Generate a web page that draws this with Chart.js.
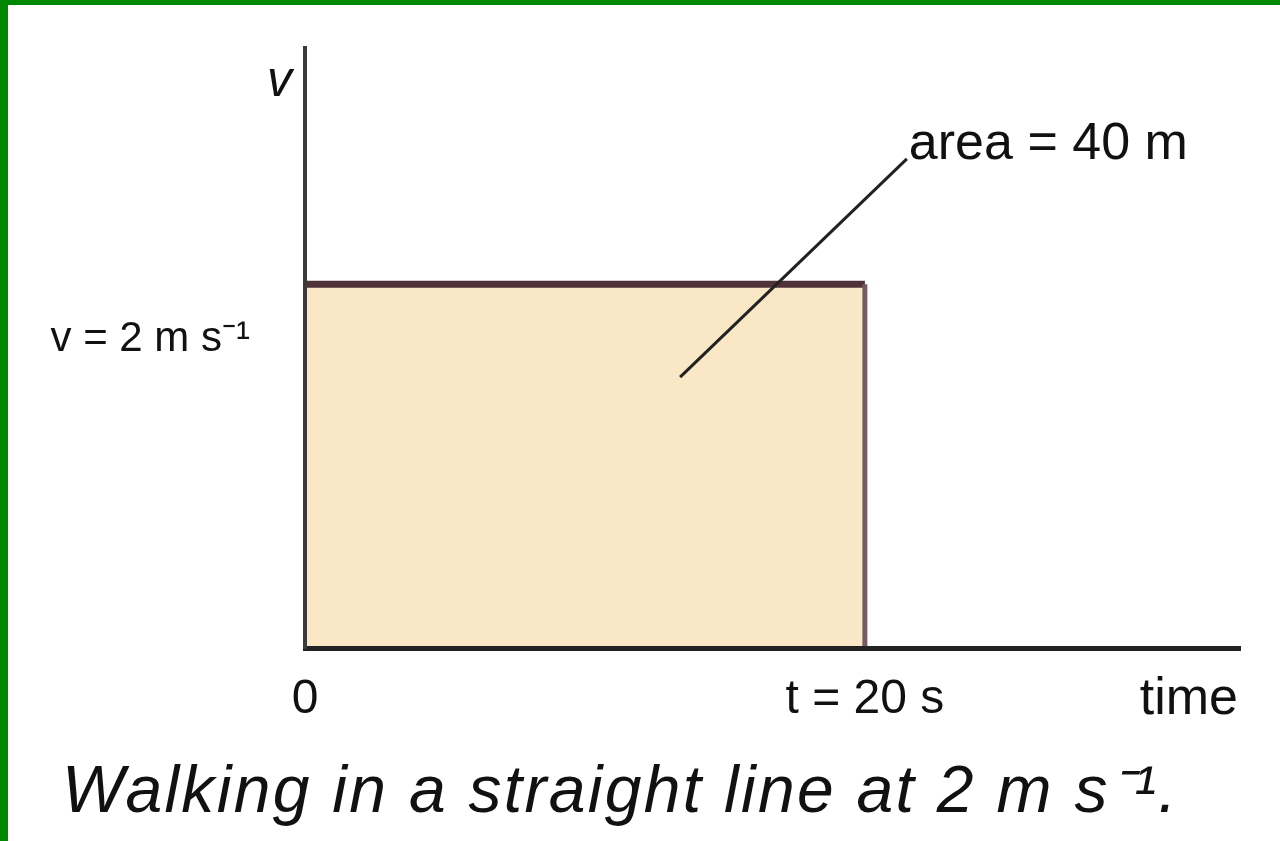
<!DOCTYPE html>
<html>
<head>
<meta charset="utf-8">
<script src="https://cdn.jsdelivr.net/npm/chart.js@4"></script>
<style>
  html, body { margin: 0; padding: 0; background: #fff; }
  #frame {
    width: 1272px; height: 836px;
    border-left: 8px solid #008800; border-top: 5px solid #008800;
    background: #fff;
  }
  canvas { display: block; }
</style>
</head>
<body>
<div id="frame"><canvas id="chart-vt" width="1272" height="836"></canvas></div>
<script>
// velocity-time: constant 2 m/s for 20 s
const timeValues = [0, 20, 20];
const velocityValues = [2, 2, 0];
// pointer from the shaded area to its label
const pointerTime = [13.4, 21.5];
const pointerVelocity = [1.49, 2.69];

const xTicks = [0, 20];
const xTickLabels = ['0', 't = 20 s'];
const yTicks = [2];
const yTickLabels = ['v = 2 m s\u207B\u00B9'];

const areaLabel = 'area = 40 m';
const xAxisName = 'time';
const yAxisName = 'v';
const caption = 'Walking in a straight line at 2 m s\u207B\u00B9.';

const sans = '"Liberation Sans", Arial, sans-serif';

const textPlugin = {
  id: 'textPlugin',
  afterDraw(chart) {
    const ctx = chart.ctx;
    const x = chart.scales.x, y = chart.scales.y;
    ctx.save();
    ctx.fillStyle = '#111';
    ctx.textBaseline = 'middle';

    ctx.font = 'italic 50px ' + sans;
    ctx.textAlign = 'right';
    ctx.fillText(yAxisName, x.left - 13, y.top + 34);

    ctx.font = '52px ' + sans;
    ctx.textAlign = 'right';
    ctx.fillText(xAxisName, x.right - 2, x.top + 52);

    const px = x.getPixelForValue(pointerTime[1]);
    const py = y.getPixelForValue(pointerVelocity[1]);
    ctx.textAlign = 'left';
    ctx.fillText(areaLabel, px + 2, py - 14);

    ctx.font = 'italic 66px ' + sans;
    ctx.letterSpacing = '2.3px';
    ctx.textBaseline = 'alphabetic';
    ctx.fillText(caption, 54, x.top + 164);
    ctx.restore();
  }
};

new Chart(document.getElementById('chart-vt').getContext('2d'), {
  type: 'line',
  data: {
    datasets: [
      {
        label: 'velocity',
        data: timeValues.map((t, i) => ({ x: t, y: velocityValues[i] })),
        borderColor: '#5a3c42',
        borderWidth: 6,
        backgroundColor: '#f9e7c6',
        fill: 'origin',
        pointRadius: 0,
        tension: 0,
        order: 1,
        segment: {
          borderColor: c => c.p0DataIndex === 0 ? '#4f3338' : '#765a62',
          borderWidth: c => c.p0DataIndex === 0 ? 7 : 5
        }
      },
      {
        label: 'pointer',
        data: pointerTime.map((t, i) => ({ x: t, y: pointerVelocity[i] })),
        borderColor: '#222',
        borderWidth: 3,
        pointRadius: 0,
        fill: false,
        clip: false,
        order: 0
      }
    ]
  },
  options: {
    responsive: false,
    animation: false,
    devicePixelRatio: 1,
    layout: { padding: { left: 0, top: 43, right: 40, bottom: 0 } },
    scales: {
      x: {
        type: 'linear',
        min: 0,
        max: 33.4,
        z: 1,
        afterFit: s => { s.height = 193; s.paddingLeft = 0; s.paddingRight = 0; },
        afterBuildTicks: s => { s.ticks = xTicks.map(v => ({ value: v })); },
        grid: { display: false, drawTicks: false },
        border: { display: true, color: '#222', width: 5, z: 2 },
        ticks: {
          padding: 23,
          color: '#111',
          maxRotation: 0,
          autoSkip: false,
          font: { family: sans, size: 48 },
          callback: (value, index) => xTickLabels[index]
        }
      },
      y: {
        type: 'linear',
        min: 0,
        max: 3.3,
        z: 1,
        afterFit: s => { s.width = 297; s.paddingTop = 0; s.paddingBottom = 0; },
        afterBuildTicks: s => { s.ticks = yTicks.map(v => ({ value: v })); },
        grid: { display: false, drawTicks: false },
        border: { display: true, color: '#3a3a3a', width: 4, z: 2 },
        ticks: {
          padding: 55,
          labelOffset: 55,
          color: '#111',
          autoSkip: false,
          font: { family: sans, size: 42 },
          callback: (value, index) => yTickLabels[index]
        }
      }
    },
    plugins: {
      legend: { display: false },
      tooltip: { enabled: false },
      title: { display: false }
    }
  },
  plugins: [textPlugin]
});
</script>
</body>
</html>
